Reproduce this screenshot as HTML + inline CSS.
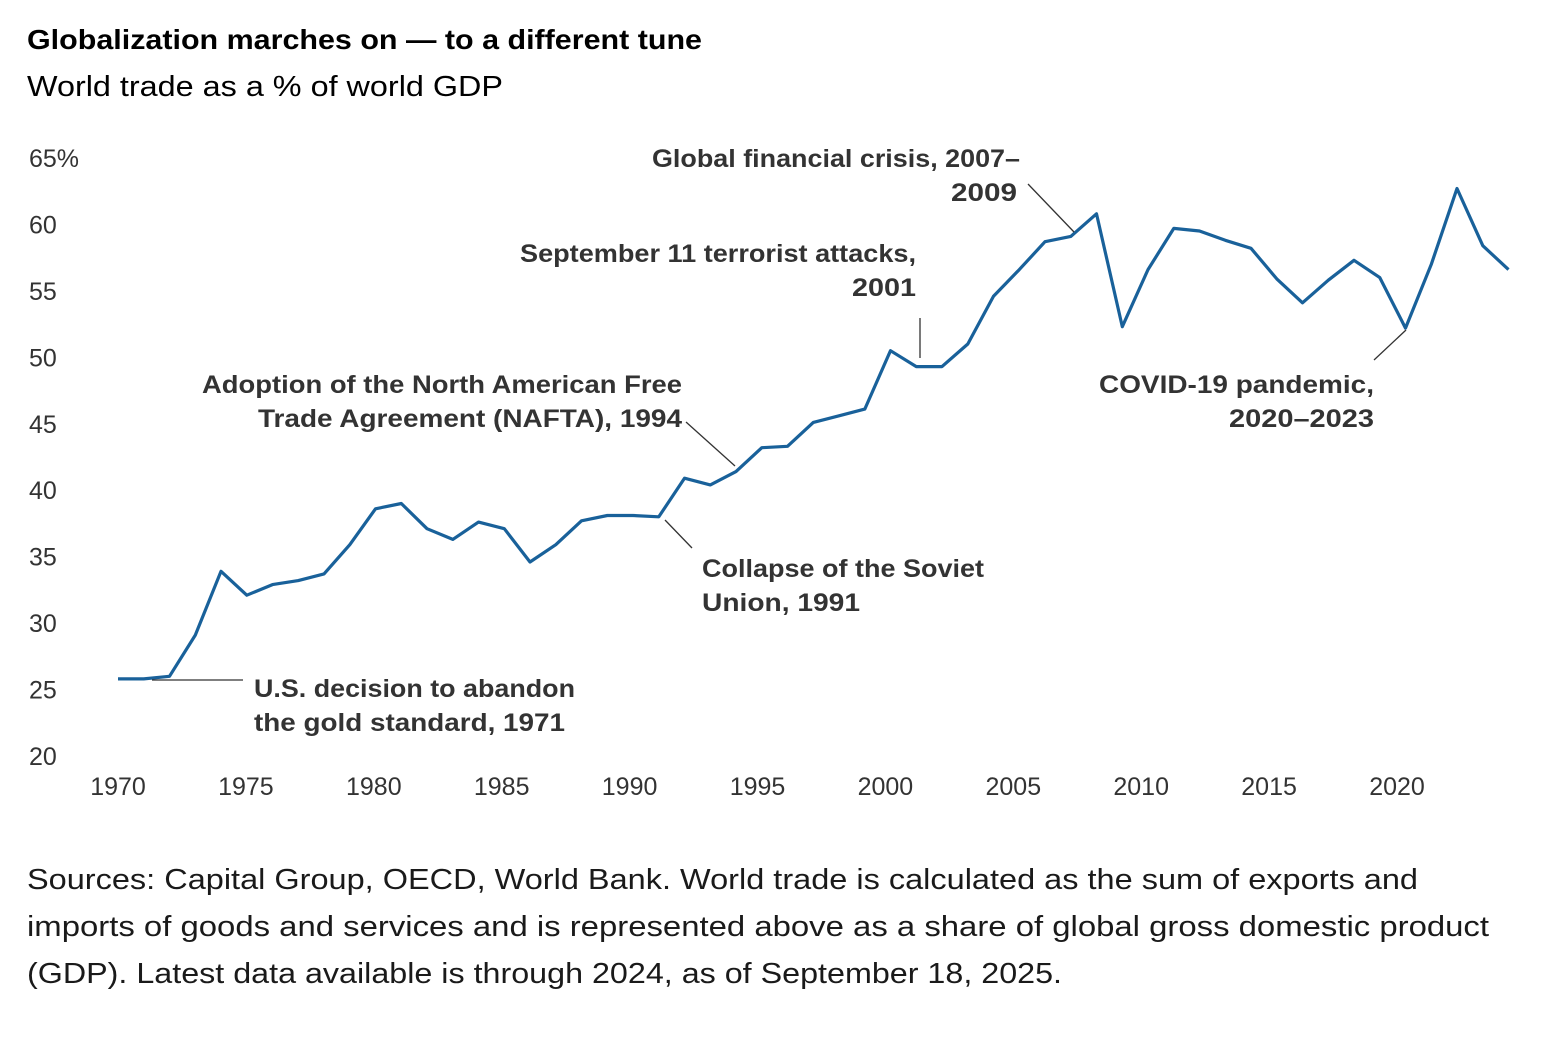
<!DOCTYPE html>
<html><head><meta charset="utf-8"><style>
body{margin:0;background:#fff;width:1566px;height:1034px;overflow:hidden;font-family:"Liberation Sans",sans-serif;color:#1a1a1a}
svg text{font-family:"Liberation Sans",sans-serif}
</style></head><body>
<svg width="1566" height="1034">
<text x="27" y="49" font-size="28" font-weight="bold" textLength="675" lengthAdjust="spacingAndGlyphs">Globalization marches on — to a different tune</text>
<text x="27" y="96" font-size="29" textLength="476" lengthAdjust="spacingAndGlyphs">World trade as a % of world GDP</text>
<g id="yaxis" font-size="25" fill="#333"></g>
<g id="xaxis" font-size="25" fill="#333"></g>
<path id="line" fill="none" stroke="#19619a" stroke-width="3.2" stroke-linejoin="round"/>
<g stroke="#333" stroke-width="1.3">
<line x1="152" y1="680" x2="243" y2="680"/>
<line x1="665" y1="520" x2="692" y2="548"/>
<line x1="686" y1="422" x2="735" y2="466"/>
<line x1="920" y1="318" x2="920" y2="358"/>
<line x1="1028" y1="184" x2="1074" y2="232"/>
<line x1="1374" y1="360" x2="1406" y2="330"/>
</g>
<g font-size="25" font-weight="bold" fill="#333" lengthAdjust="spacingAndGlyphs">
<text><tspan x="254" y="697" textLength="321" lengthAdjust="spacingAndGlyphs">U.S. decision to abandon</tspan><tspan x="254" y="731" textLength="311" lengthAdjust="spacingAndGlyphs">the gold standard, 1971</tspan></text>
<text><tspan x="702" y="577" textLength="282" lengthAdjust="spacingAndGlyphs">Collapse of the Soviet</tspan><tspan x="702" y="611" textLength="158" lengthAdjust="spacingAndGlyphs">Union, 1991</tspan></text>
<text><tspan x="202" y="393" textLength="480" lengthAdjust="spacingAndGlyphs">Adoption of the North American Free</tspan><tspan x="258" y="427" textLength="424" lengthAdjust="spacingAndGlyphs">Trade Agreement (NAFTA), 1994</tspan></text>
<text><tspan x="520" y="262" textLength="396" lengthAdjust="spacingAndGlyphs">September 11 terrorist attacks,</tspan><tspan x="852" y="296" textLength="64" lengthAdjust="spacingAndGlyphs">2001</tspan></text>
<text><tspan x="652" y="167" textLength="368" lengthAdjust="spacingAndGlyphs">Global financial crisis, 2007–</tspan><tspan x="951" y="201" textLength="66" lengthAdjust="spacingAndGlyphs">2009</tspan></text>
<text><tspan x="1099" y="393" textLength="275" lengthAdjust="spacingAndGlyphs">COVID-19 pandemic,</tspan><tspan x="1229" y="427" textLength="145" lengthAdjust="spacingAndGlyphs">2020–2023</tspan></text>
</g>
<text font-size="29" fill="#1a1a1a"><tspan x="27" y="889" textLength="1391" lengthAdjust="spacingAndGlyphs">Sources: Capital Group, OECD, World Bank. World trade is calculated as the sum of exports and</tspan><tspan x="27" y="936" textLength="1462" lengthAdjust="spacingAndGlyphs">imports of goods and services and is represented above as a share of global gross domestic product</tspan><tspan x="27" y="983" textLength="1035" lengthAdjust="spacingAndGlyphs">(GDP). Latest data available is through 2024, as of September 18, 2025.</tspan></text>
</svg>
<script>
const years=[1970,1971,1972,1973,1974,1975,1976,1977,1978,1979,1980,1981,1982,1983,1984,1985,1986,1987,1988,1989,1990,1991,1992,1993,1994,1995,1996,1997,1998,1999,2000,2001,2002,2003,2004,2005,2006,2007,2008,2009,2010,2011,2012,2013,2014,2015,2016,2017,2018,2019,2020,2021,2022,2023,2024];
const values=[25.8,25.8,26.0,29.1,33.9,32.1,32.9,33.2,33.7,35.9,38.6,39.0,37.1,36.3,37.6,37.1,34.6,35.9,37.7,38.1,38.1,38.0,40.9,40.4,41.4,43.2,43.3,45.1,45.6,46.1,50.5,49.3,49.3,51.0,54.6,56.6,58.7,59.1,60.8,52.3,56.6,59.7,59.5,58.8,58.2,55.9,54.1,55.8,57.3,56.0,52.2,57.0,62.7,58.4,56.6];
const yTicks=[20,25,30,35,40,45,50,55,60,65];
const yTickLabels=["20","25","30","35","40","45","50","55","60","65%"];
const xTicks=[1970,1975,1980,1985,1990,1995,2000,2005,2010,2015,2020];
const X=y=>118+(y-1970)*25.75;
const Y=v=>756-(v-20)*13.29;
const NS="http://www.w3.org/2000/svg";
const ya=document.getElementById('yaxis'),xa=document.getElementById('xaxis');
yTicks.forEach((t,i)=>{const e=document.createElementNS(NS,'text');e.setAttribute('x',29);e.setAttribute('y',Y(t)+9);e.textContent=yTickLabels[i];


ya.appendChild(e);});
xTicks.forEach(t=>{const e=document.createElementNS(NS,'text');e.setAttribute('x',X(t)-(t-1970)*0.17);e.setAttribute('y',795);e.setAttribute('text-anchor','middle');e.textContent=t;


xa.appendChild(e);});
document.getElementById('line').setAttribute('d',years.map((y,i)=>(i?'L':'M')+X(y).toFixed(1)+' '+Y(values[i]).toFixed(1)).join(' '));
</script>
</body></html>
